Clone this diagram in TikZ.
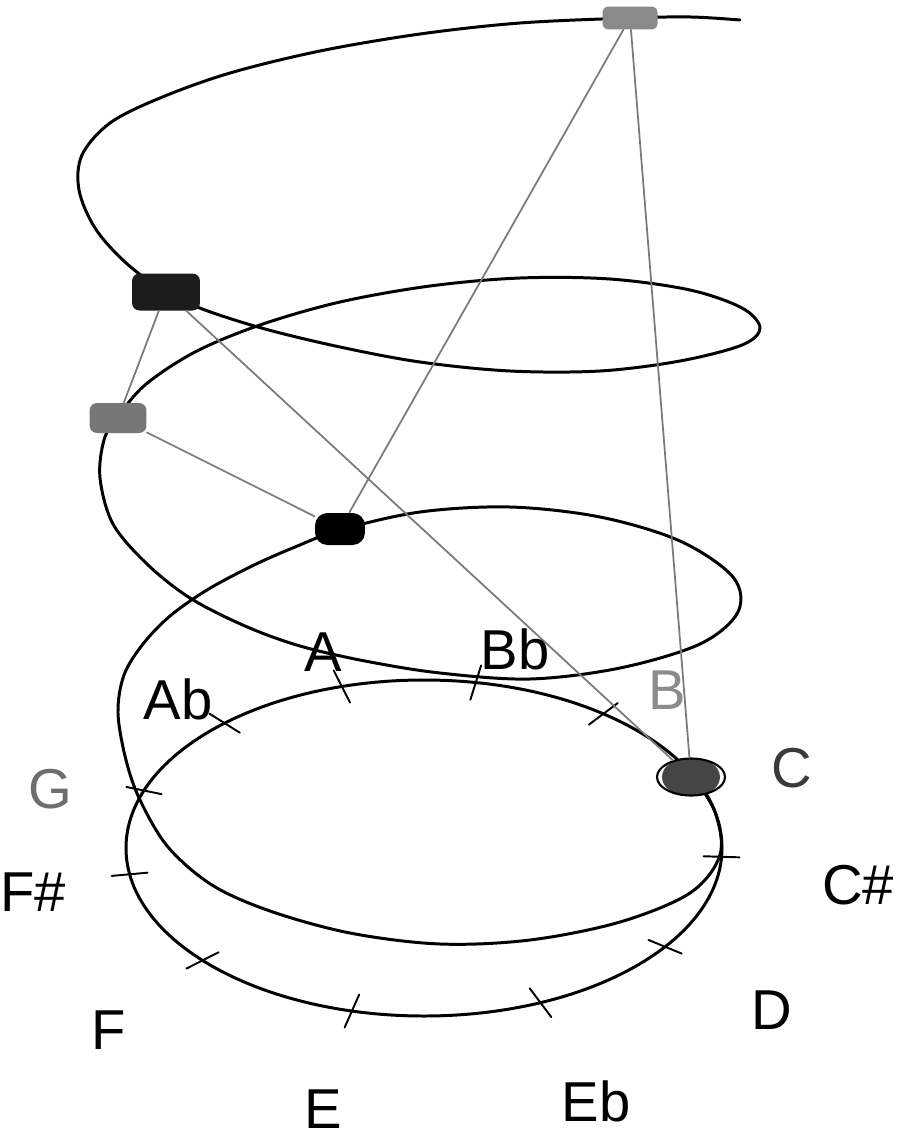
\documentclass[tikz,border=0pt]{standalone}
\usepackage{fontspec}
\setmainfont{Liberation Sans}
\usetikzlibrary{calc,shapes.geometric}
\definecolor{linkgray}{HTML}{7A7A7A}
\definecolor{lightnode}{HTML}{8A8A8A}
\definecolor{midnode}{HTML}{777777}
\definecolor{darknode}{HTML}{1C1C1C}
\definecolor{cnode}{HTML}{454545}
\definecolor{ctext}{HTML}{3A3A3A}
\definecolor{gtext}{HTML}{6E6E6E}
\definecolor{btext}{HTML}{8C8C8C}
\tikzset{
  every picture/.style={line join=round, line cap=round},
  helix/.style={line width=1.7pt},
  tickmark/.style={line width=1.1pt},
  link/.style={draw=linkgray, line width=1pt},
  tone/.style={rectangle, rounded corners=0.15cm, inner sep=0pt},
  lbl/.style={font=\fontsize{32}{36}\selectfont, inner sep=0pt},
}
\begin{document}
\begin{tikzpicture}[x=0.02cm, y=-0.02cm]
\useasboundingbox (0,0) rectangle (900,1139);

% flat chroma circle with one tick per pitch class
\coordinate (ctr) at (424,848);
\draw[helix] (ctr) ellipse [x radius=298, y radius=168];
\foreach \a in {-26,3,36,67,104,138,171,200,228,254,280,307}{
  \coordinate (p) at ($(ctr)+(\a:298 and 168)$);
  \draw[tickmark] ($(p)!0.36cm!(ctr)$) -- ($(p)!-0.36cm!(ctr)$);
}

% the pitch helix, traced from C upwards
\draw[helix] plot[smooth, tension=0.55] coordinates {
  (692,775) (715,812) (720,855) (690,893) (620,922) (530,940)
  (440,944) (350,933) (270,911) (212,885) (168,847) (140,800)
  (126,760) (118,713) (124,675) (143,644) (170,616) (207,590)
  (252,566) (295,547) (340,530)
  (420,512) (510,507) (600,517) (680,541) (733,577) (738,612)
  (700,644) (620,668) (530,679) (440,673) (365,661) (300,646)
  (245,626) (190,598) (147,564) (113,524) (100,478) (104,440)
  (117,418)
  (145,385) (195,352) (260,325) (340,302) (430,286) (520,278)
  (610,279) (690,290) (742,308) (760,328) (742,345) (680,361)
  (600,371) (510,371) (420,362) (340,347) (265,329) (205,310)
  (165,292)
  (125,262) (95,228) (79,190) (82,155) (110,123) (160,98)
  (230,73) (320,51) (420,34) (520,23) (630,18) (691,17) (740,20)
};

% tones sitting on the helix
\node[tone, fill=lightnode, minimum width=1.1cm, minimum height=0.46cm,
  rounded corners=0.12cm] (top) at (630,18) {};
\node[tone, fill=darknode, minimum width=1.36cm, minimum height=0.74cm] (high) at (166,292) {};
\node[tone, fill=midnode, minimum width=1.14cm, minimum height=0.6cm] (mid) at (118,418) {};
\node[tone, fill=black, minimum width=1cm, minimum height=0.64cm,
  rounded corners=0.25cm] (low) at (340,529) {};
\node[ellipse, draw=black, line width=1.2pt, fill=white, inner sep=0pt,
  minimum width=1.36cm, minimum height=0.74cm,
  path picture={\fill[cnode] (path picture bounding box.center)
    ellipse [x radius=0.58cm, y radius=0.4cm];}] (base) at (691,777) {};

\draw[link] (top) -- (low);
\draw[link] (top) -- (base);
\draw[link] (high) -- (mid);
\draw[link] (high) -- (base);
\draw[link] (mid) -- (low);

% note names
\node[lbl, text=ctext] (lC) at (792,768) {C};
\node[lbl] (lCs) at (858,885) {C\#};
\node[lbl] (lD) at (772,1010) {D};
\node[lbl] (lEb) at (596,1101) {Eb};
\node[lbl] (lE) at (323,1109) {E};
\node[lbl] (lF) at (109,1030) {F};
\node[lbl] (lFs) at (33,892) {F\#};
\node[lbl, text=gtext] (lG) at (50,789) {G};
\node[lbl] (lAb) at (178,699) {Ab};
\node[lbl] (lA) at (323,652) {A};
\node[lbl] (lBb) at (515,649) {Bb};
\node[lbl, text=btext] (lB) at (667,690) {B};
\end{tikzpicture}
\end{document}
